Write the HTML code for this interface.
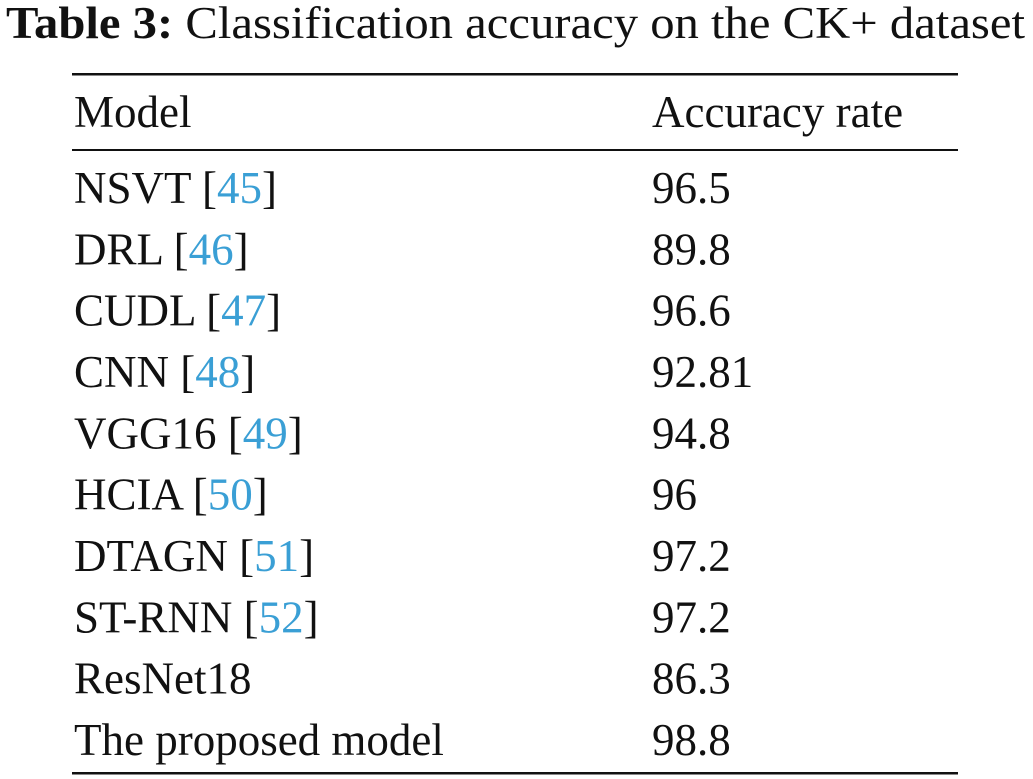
<!DOCTYPE html>
<html><head><meta charset="utf-8"><style>
html,body{margin:0;padding:0;background:#fff;}
svg{display:block;}
text{font-family:"Liberation Serif",serif;font-size:45px;fill:#111;}
.ref{fill:#3a9fd5;}
</style></head><body>
<svg width="1033" height="779" viewBox="0 0 1033 779">
<text x="6" y="38" textLength="1019" lengthAdjust="spacingAndGlyphs"><tspan font-weight="bold">Table 3:</tspan>  Classification accuracy on the CK+ dataset</text>
<rect x="72" y="73" width="886" height="2.5" fill="#111"/>
<text x="74" y="127">Model</text>
<text x="652" y="127">Accuracy rate</text>
<rect x="72" y="149" width="886" height="2" fill="#111"/>
<g id="rows"></g>
<rect x="72" y="772" width="886" height="2.5" fill="#111"/>
</svg>
<script>
const models=["NSVT","DRL","CUDL","CNN","VGG16","HCIA","DTAGN","ST-RNN","ResNet18","The proposed model"];
const refs=["45","46","47","48","49","50","51","52","",""];
const accuracy=["96.5","89.8","96.6","92.81","94.8","96","97.2","97.2","86.3","98.8"];
const g=document.getElementById('rows');
const NS="http://www.w3.org/2000/svg";
models.forEach((m,i)=>{
  const y=203+i*61.33;
  const t=document.createElementNS(NS,'text');
  t.setAttribute('x',74);t.setAttribute('y',y);
  
  
  if(refs[i]){
    t.appendChild(document.createTextNode(m+' ['));
    const s=document.createElementNS(NS,'tspan');s.setAttribute('class','ref');s.textContent=refs[i];
    
    
    t.appendChild(s);
    t.appendChild(document.createTextNode(']'));
  } else t.textContent=m;
  g.appendChild(t);
  const a=document.createElementNS(NS,'text');
  a.setAttribute('x',652);a.setAttribute('y',y);
  
  
  a.textContent=accuracy[i];
  g.appendChild(a);
});
</script>
</body></html>
